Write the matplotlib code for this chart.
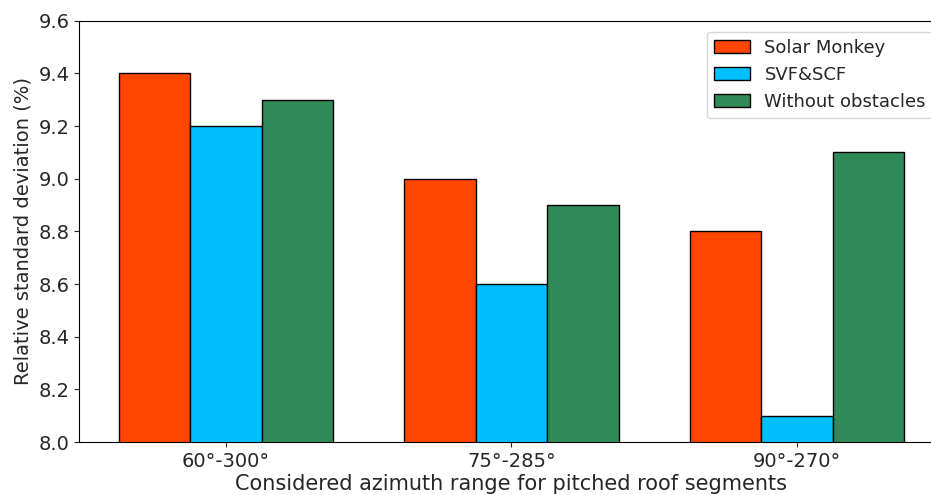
import matplotlib
matplotlib.use("Agg")
import matplotlib.pyplot as plt
import numpy as np

categories = ["60°-300°", "75°-285°", "90°-270°"]
series_names = ["Solar Monkey", "SVF&SCF", "Without obstacles"]
solar_monkey = [9.4, 9.0, 8.8]
svf_scf = [9.2, 8.6, 8.1]
without_obstacles = [9.3, 8.9, 9.1]
colors = ["#FF4500", "#00BFFF", "#2E8B57"]

fig = plt.figure(figsize=(9.31, 4.95), dpi=100)
ax = fig.add_axes([0.0849, 0.107, 0.929, 0.851])

x = np.arange(len(categories))
width = 0.25
for i, (vals, name, c) in enumerate(zip([solar_monkey, svf_scf, without_obstacles], series_names, colors)):
    ax.bar(x + (i - 1) * width, vals, width, color=c, edgecolor="black", linewidth=1, label=name)

ax.set_xlim(-0.515, 2.515)
ax.set_ylim(8.0, 9.6)
ax.set_yticks(np.arange(8.0, 9.61, 0.2))
ax.set_xticks(x)
ax.set_xticklabels(categories)
ax.spines["right"].set_visible(False)
ax.tick_params(labelsize=14, colors="#262626")
ax.set_xlabel("Considered azimuth range for pitched roof segments", fontsize=15, color="#262626", labelpad=2)
ax.set_ylabel("Relative standard deviation (%)", fontsize=14, color="#262626")
leg = ax.legend(loc="upper right", fontsize=13, borderaxespad=0.6)
for t in leg.get_texts():
    t.set_color("#262626")

fig.savefig("out.png", dpi=100)
